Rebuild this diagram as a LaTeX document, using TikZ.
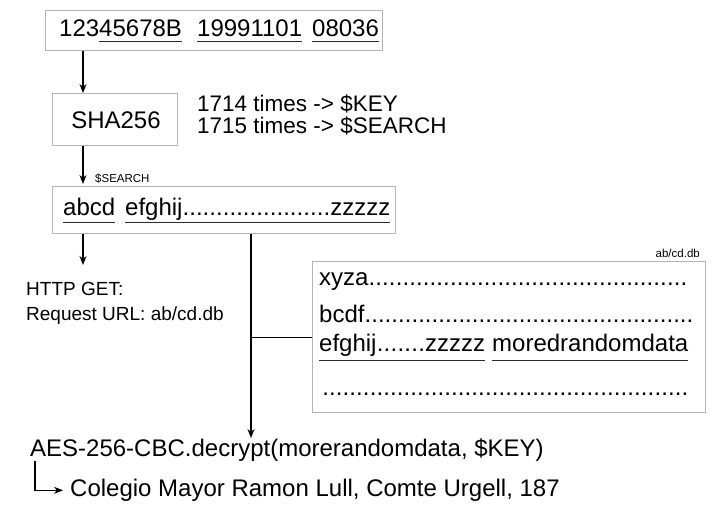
\documentclass[tikz,border=0pt]{standalone}
\usepackage{fontspec}
\setmainfont{Liberation Sans}
\usetikzlibrary{arrows.meta}
\definecolor{framegray}{HTML}{B4B4B4}
\definecolor{inkgray}{HTML}{2A2A2A}

% underline a piece of text; optional argument = depth of the rule's bottom edge
\newcommand\ulseg[2][6pt]{\setbox0\hbox{#2}\rlap{\color{inkgray}\rule[-#1]{\wd0}{1.4pt}}\box0}

\begin{document}
\begin{tikzpicture}[x=1pt,y=-1pt,
  frame/.style={draw=framegray, line width=1.2pt, inner sep=0pt, anchor=north west},
  lbl/.style={inner sep=0pt, anchor=base west, font=\fontsize{24}{28}\selectfont},
  rounds/.style={inner sep=0pt, anchor=base west, font=\fontsize{22.5}{26}\selectfont},
  note/.style={inner sep=0pt, anchor=base west, font=\fontsize{19}{23}\selectfont},
  tag/.style={inner sep=0pt, anchor=base west, font=\fontsize{11.5}{13}\selectfont},
  link/.style={line width=1.1pt, black},
  arr/.style={link, -{Stealth[length=9pt,width=7pt]}}]
\useasboundingbox (0,0) rectangle (728,509);

% frames
\node[frame, minimum width=337pt, minimum height=40pt] (b1) at (45,10) {};
\node[frame, minimum width=125pt, minimum height=52pt] (b2) at (52,93) {};
\node[frame, minimum width=343pt, minimum height=47pt] (b3) at (52,186) {};
\node[frame, minimum width=393pt, minimum height=151pt] (b4) at (312,261) {};

% identifier
\node[lbl] (n1) at (59,36) {123\ulseg{45678B}};
\node[lbl] (n2) at (197,36) {\ulseg{19991101}};
\node[lbl] (n3) at (312,36) {\ulseg{08036}};

% hashing
\node[lbl, anchor=base] (sha) at (116,128) {SHA256};
\node[rounds] (t1) at (197,111.5) {1714 times -> \$KEY};
\node[rounds] (t2) at (197,133.5) {1715 times -> \$SEARCH};

% search hash
\node[tag] (srch) at (95,182) {\$SEARCH};
\node[lbl] (s1) at (63,215) {\ulseg[8pt]{abcd}};
\node[lbl] (s2) at (125,215) {\ulseg[8pt]{\hbox to 265pt{efghij\xleaders\hbox{.}\hfill zzzzz}}};

% request
\node[note] (h1) at (26,295.7) {HTTP GET:};
\node[note] (h2) at (26,320.7) {Request URL: ab/cd.db};

% database file
\node[tag, anchor=base east] (dbname) at (700,257) {ab/cd.db};
\node[lbl] (r1) at (319,285) {\hbox to 368pt{xyza\xleaders\hbox{.}\hfill}};
\node[lbl] (r2) at (319,322) {\hbox to 374pt{bcdf\xleaders\hbox{.}\hfill}};
\node[lbl] (r3a) at (319,351) {\ulseg[10pt]{\hbox to 166pt{efghij\xleaders\hbox{.}\hfill zzzzz}}};
\node[lbl] (r3b) at (492,351) {\ulseg[10pt]{moredrandomdata}};
\node[lbl] (r4) at (322,395) {\hbox to 366pt{\xleaders\hbox{.}\hfill}};

% decryption
\node[lbl] (aes) at (30,456) {AES-256-CBC.decrypt(morerandomdata, \$KEY)};
\node[lbl] (cmr) at (70,496.5) {Colegio Mayor Ramon Lull, Comte Urgell, 187};

% connectors
\coordinate (spine) at (83,0);
\coordinate (tap) at (251,0);
\coordinate (elbow) at (35,0);
\coordinate (httpend) at (83,265);
\draw[arr] (b1.south -| spine) -- (b2.north -| spine);
\draw[arr, shorten >=2pt] (b2.south -| spine) -- (b3.north -| spine);
\draw[arr] (b3.south -| spine) -- (httpend);
\draw[arr] (b3.south -| tap) -- (aes.north -| tap);
\draw[link] (b4.west -| tap) -- (b4.west);
\draw[arr] (aes.south west -| elbow) |- ([xshift=-7pt]cmr.west);
\end{tikzpicture}
\end{document}
